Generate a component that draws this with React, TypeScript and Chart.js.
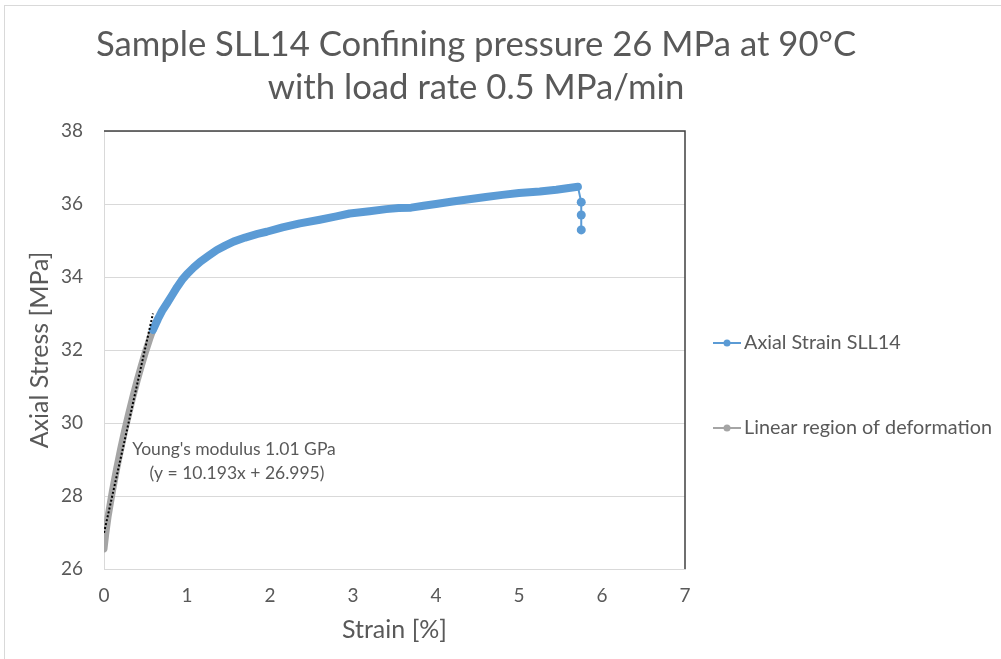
import React, { useEffect, useRef } from "react";
import { Chart, registerables } from "chart.js";

Chart.register(...registerables);

// ---- Data ----
const titleLines = ["Sample SLL14 Confining pressure 26 MPa at 90°C", "with load rate 0.5 MPa/min"];
const xAxisTitle = "Strain [%]";
const yAxisTitle = "Axial Stress [MPa]";
const seriesNames = ["Axial Strain SLL14", "Linear region of deformation"];
const annotationLines = ["Young's modulus 1.01 GPa", "(y = 10.193x + 26.995)"];

const axialStrain = [
  0.59, 0.65, 0.7, 0.76, 0.82, 0.88, 0.94, 1.0, 1.08, 1.16, 1.26, 1.36, 1.46, 1.56, 1.7, 1.85, 1.96,
  2.15, 2.36, 2.6, 2.8, 2.96, 3.2, 3.4, 3.55, 3.7, 3.85, 4.0, 4.2, 4.4, 4.6, 4.8, 5.0, 5.25, 5.45,
  5.6, 5.71, 5.75, 5.75, 5.75,
];
const axialStress = [
  32.55, 32.85, 33.07, 33.28, 33.5, 33.72, 33.92, 34.08, 34.26, 34.42, 34.58, 34.74, 34.86, 34.97,
  35.08, 35.18, 35.24, 35.36, 35.47, 35.57, 35.66, 35.74, 35.8, 35.86, 35.89, 35.9, 35.95, 36.0,
  36.07, 36.13, 36.19, 36.25, 36.3, 36.34, 36.39, 36.44, 36.47, 36.05, 35.7, 35.29,
];

const linearStrain = [0.0, 0.02, 0.05, 0.1, 0.15, 0.2, 0.25, 0.3, 0.35, 0.4, 0.45, 0.5, 0.55, 0.59];
const linearStress = [26.55, 26.95, 27.45, 28.12, 28.72, 29.28, 29.8, 30.28, 30.74, 31.17, 31.57, 31.95, 32.3, 32.55];

const trendStrain = [0.0, 0.59];
const trendStress = [26.99, 33.0];

const xTicks = [0, 1, 2, 3, 4, 5, 6, 7];
const yTicks = [26, 28, 30, 32, 34, 36, 38];

const BLUE = "#5B9BD5";
const GRAY = "#A5A5A5";
const TEXT = "#595959";
const FONT = "Lato, 'Open Sans', sans-serif";

const toPoints = (xs: number[], ys: number[]) => xs.map((x, i) => ({ x, y: ys[i] }));

const overlayPlugin = {
  id: "overlay",
  afterDraw(chart: any) {
    const ctx = chart.ctx as CanvasRenderingContext2D;
    const { left, right, top, bottom } = chart.chartArea;
    ctx.save();
    // top & right frame
    ctx.strokeStyle = "#404040";
    ctx.lineWidth = 1.5;
    ctx.beginPath();
    ctx.moveTo(left, top);
    ctx.lineTo(right, top);
    ctx.lineTo(right, bottom);
    ctx.stroke();

    // title
    ctx.fillStyle = TEXT;
    ctx.textAlign = "center";
    ctx.textBaseline = "middle";
    ctx.font = `34.7px ${FONT}`;
    ctx.fillText(titleLines[0], 476, 45);
    ctx.fillText(titleLines[1], 476, 88);

    // annotation (trendline label)
    ctx.fillStyle = "#595959";
    ctx.font = `17.5px ${FONT}`;
    ctx.fillText(annotationLines[0], 234, 449);
    ctx.fillText(annotationLines[1], 237, 473);

    // legend
    const items = [
      { name: seriesNames[0], color: BLUE, y: 343 },
      { name: seriesNames[1], color: GRAY, y: 428 },
    ];
    ctx.textAlign = "left";
    ctx.font = `19.8px ${FONT}`;
    for (const it of items) {
      ctx.strokeStyle = it.color;
      ctx.lineWidth = 2;
      ctx.beginPath();
      ctx.moveTo(713, it.y);
      ctx.lineTo(741, it.y);
      ctx.stroke();
      ctx.fillStyle = it.color;
      ctx.beginPath();
      ctx.arc(727, it.y, 3.5, 0, Math.PI * 2);
      ctx.fill();
      ctx.fillStyle = TEXT;
      ctx.fillText(it.name, 744, it.y);
    }
    ctx.restore();
  },
};

export default function App() {
  const ref = useRef<HTMLCanvasElement | null>(null);

  useEffect(() => {
    if (!ref.current) return;
    const nAxial = axialStrain.length;
    const chart = new Chart(ref.current, {
      type: "scatter",
      data: {
        datasets: [
          {
            label: "Linear trendline",
            data: toPoints(trendStrain, trendStress),
            showLine: true,
            borderColor: "#000000",
            borderWidth: 2,
            borderDash: [2, 2],
            pointRadius: 0,
            order: 0,
          },
          {
            label: seriesNames[0],
            data: toPoints(axialStrain, axialStress),
            showLine: true,
            borderColor: BLUE,
            backgroundColor: BLUE,
            borderWidth: 8,
            borderCapStyle: "round",
            borderJoinStyle: "round",
            pointRadius: (c: any) => (c.dataIndex >= nAxial - 3 ? 4.5 : 0),
            pointBorderWidth: 0,
            segment: {
              borderWidth: (c: any) => (c.p0DataIndex >= nAxial - 4 ? 2 : 8),
            },
            order: 1,
          } as any,
          {
            label: seriesNames[1],
            data: toPoints(linearStrain, linearStress),
            showLine: true,
            borderColor: GRAY,
            backgroundColor: GRAY,
            borderWidth: 7,
            borderCapStyle: "round",
            borderJoinStyle: "round",
            pointRadius: 0,
            order: 2,
          } as any,
        ],
      },
      options: {
        responsive: false,
        animation: false,
        layout: { padding: { top: 131, right: 316, left: 0, bottom: 0 } },
        plugins: {
          legend: { display: false },
          title: { display: false },
          tooltip: { enabled: false },
        },
        scales: {
          x: {
            type: "linear",
            min: 0,
            max: 7,
            afterFit: (s: any) => {
              s.height = 90;
            },
            afterBuildTicks: (s: any) => {
              s.ticks = xTicks.map((v) => ({ value: v }));
            },
            grid: { display: false, drawTicks: false },
            border: { display: true, color: "#D9D9D9", width: 1 },
            ticks: { color: TEXT, font: { family: FONT, size: 19 }, padding: 15 },
            title: {
              display: true,
              text: xAxisTitle,
              color: TEXT,
              font: { family: FONT, size: 25 },
              padding: { top: 0, bottom: 14 },
            },
          },
          y: {
            type: "linear",
            min: 26,
            max: 38,
            afterFit: (s: any) => {
              s.width = 104;
            },
            afterBuildTicks: (s: any) => {
              s.ticks = yTicks.map((v) => ({ value: v }));
            },
            grid: { color: "#D9D9D9", lineWidth: 1, drawTicks: false },
            border: { display: true, color: "#D9D9D9", width: 1 },
            ticks: { color: TEXT, font: { family: FONT, size: 19 }, padding: 21 },
            title: {
              display: true,
              text: yAxisTitle,
              color: TEXT,
              font: { family: FONT, size: 25 },
              padding: { top: 25, bottom: 0 },
            },
          },
        },
      },
      plugins: [overlayPlugin],
    } as any);
    return () => chart.destroy();
  }, []);

  return (
    <div style={{ position: "fixed", left: 0, top: 0, width: 1001, height: 659, overflow: "hidden", background: "#fff" }}>
      <div
        style={{
          position: "absolute",
          left: 4,
          top: 5,
          width: 1010,
          height: 670,
          border: "1px solid #D9D9D9",
          boxSizing: "border-box",
        }}
      />
      <canvas ref={ref} width={1001} height={659} style={{ position: "absolute", left: 0, top: 0, display: "block" }} />
    </div>
  );
}
